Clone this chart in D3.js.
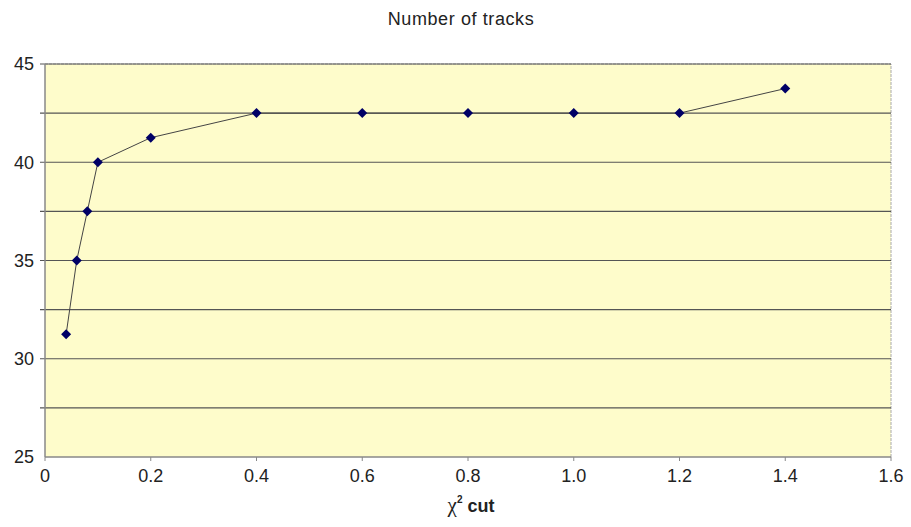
<!doctype html>
<html lang="en">
  <head>
    <meta charset="utf-8">
    <title>Number of tracks</title>
    <style>
      body { margin: 0; background: #fff; }
      svg { display: block; }
    </style>
  </head>
  <body>
    <script src="https://cdn.jsdelivr.net/npm/d3@7"></script>
    <script>

    // chi^2 cut values and number of tracks
    const cuts   = [0.04, 0.06, 0.08, 0.1, 0.2, 0.4, 0.6, 0.8, 1.0, 1.2, 1.4];
    const tracks = [31.25, 35, 37.5, 40, 41.25, 42.5, 42.5, 42.5, 42.5, 42.5, 43.75];

    const xTicks = [0, 0.2, 0.4, 0.6, 0.8, 1.0, 1.2, 1.4, 1.6];
    const yTicks = [25, 30, 35, 40, 45];
    const yGrid  = [27.5, 30, 32.5, 35, 37.5, 40, 42.5, 45];

    const width  = 911,
          height = 527,
          margin = {top: 64, right: 20, bottom: 70, left: 45};

    const svg = d3.select('body')
      .append('svg')
      .attr('width', width)
      .attr('height', height);

    const x = d3.scaleLinear()
      .domain([0, 1.6])
      .range([margin.left, width - margin.right]);

    const y = d3.scaleLinear()
      .domain([25, 45])
      .range([height - margin.bottom, margin.top]);

    // plot area
    svg.append('rect')
      .attr('x', x(0))
      .attr('y', y(45))
      .attr('width', x(1.6) - x(0))
      .attr('height', y(25) - y(45))
      .attr('fill', '#fefccb');

    // frame on top and right
    svg.append('path')
      .attr('d', `M${x(0)},${y(45)}H${x(1.6)}V${y(25)}`)
      .attr('fill', 'none')
      .attr('stroke', '#aaa')
      .attr('stroke-width', 1)
      .attr('stroke-dasharray', '3 1');

    // gridlines
    svg.selectAll('line.grid')
      .data(yGrid)
      .join('line')
      .attr('class', 'grid')
      .attr('x1', x(0) - 5)
      .attr('x2', x(1.6))
      .attr('y1', d => y(d))
      .attr('y2', d => y(d))
      .attr('stroke', '#555')
      .attr('stroke-width', 1.2);

    // axes
    svg.append('line')
      .attr('x1', x(0)).attr('x2', x(0))
      .attr('y1', y(45)).attr('y2', y(25))
      .attr('stroke', '#888').attr('stroke-width', 1.5);

    svg.append('line')
      .attr('x1', x(0)).attr('x2', x(1.6))
      .attr('y1', y(25)).attr('y2', y(25))
      .attr('stroke', '#888').attr('stroke-width', 1.5);

    svg.selectAll('line.xtick')
      .data(xTicks)
      .join('line')
      .attr('class', 'xtick')
      .attr('x1', d => x(d)).attr('x2', d => x(d))
      .attr('y1', y(25)).attr('y2', y(25) + 4)
      .attr('stroke', '#888');

    // tick labels
    svg.selectAll('text.ylab')
      .data(yTicks)
      .join('text')
      .attr('class', 'ylab')
      .attr('x', x(0) - 11)
      .attr('y', d => y(d))
      .attr('dy', '0.35em')
      .attr('text-anchor', 'end')
      .attr('font-family', 'Liberation Sans, Arial, sans-serif')
      .attr('font-size', 18)
      .attr('fill', '#222')
      .text(d => d);

    svg.selectAll('text.xlab')
      .data(xTicks)
      .join('text')
      .attr('class', 'xlab')
      .attr('x', d => x(d))
      .attr('y', y(25) + 25)
      .attr('text-anchor', 'middle')
      .attr('font-family', 'Liberation Sans, Arial, sans-serif')
      .attr('font-size', 18)
      .attr('fill', '#222')
      .text(d => d === 0 ? '0' : d.toFixed(1));

    // titles
    svg.append('text')
      .attr('x', 461)
      .attr('y', 25)
      .attr('text-anchor', 'middle')
      .attr('font-family', 'Liberation Sans, Arial, sans-serif')
      .attr('font-size', 18)
      .attr('letter-spacing', 0.6)
      .attr('fill', '#222')
      .text('Number of tracks');

    const xTitle = svg.append('text')
      .attr('x', 471)
      .attr('y', 512)
      .attr('text-anchor', 'middle')
      .attr('font-family', 'Liberation Sans, Arial, sans-serif')
      .attr('font-size', 18)
      .attr('font-weight', 'bold')
      .attr('fill', '#222');
    xTitle.append('tspan').attr('font-family', 'Liberation Serif, serif').attr('font-weight', 'normal').attr('font-size', 21).text('χ');
    xTitle.append('tspan').attr('font-size', 10).attr('dy', -9).text('2');
    xTitle.append('tspan').attr('dy', 9).text(' cut');

    // series
    const points = cuts.map((c, i) => ({x: c, y: tracks[i]}));

    svg.append('path')
      .datum(points)
      .attr('d', d3.line().x(d => x(d.x)).y(d => y(d.y)))
      .attr('fill', 'none')
      .attr('stroke', '#444')
      .attr('stroke-width', 1);

    svg.selectAll('path.marker')
      .data(points)
      .join('path')
      .attr('class', 'marker')
      .attr('transform', d => `translate(${x(d.x)},${y(d.y)}) rotate(45)`)
      .attr('d', d3.symbol(d3.symbolSquare, 50))
      .attr('fill', '#000066');

    </script>
  </body>
</html>
